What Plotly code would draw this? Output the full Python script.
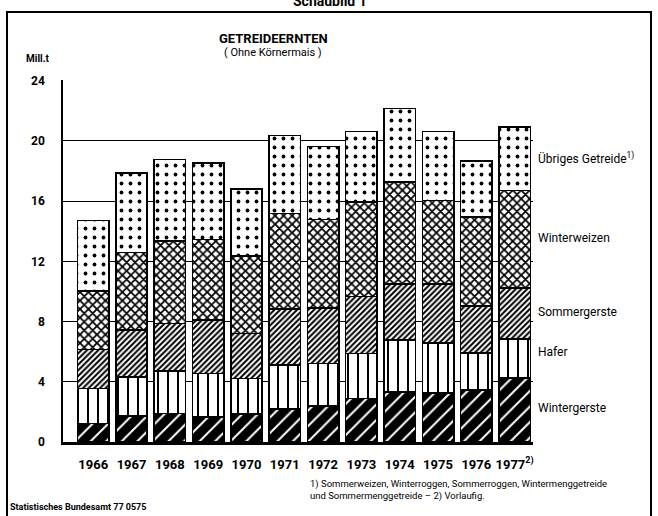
import plotly.graph_objects as go

years = [1966, 1967, 1968, 1969, 1970, 1971, 1972, 1973, 1974, 1975, 1976, 1977]
year_labels = ["1966", "1967", "1968", "1969", "1970", "1971", "1972", "1973", "1974", "1975", "1976", "1977<sup>2)</sup>"]

wintergerste = [1.24, 1.72, 1.90, 1.68, 1.86, 2.19, 2.41, 2.90, 3.34, 3.27, 3.45, 4.26]
hafer = [2.32, 2.61, 2.81, 2.87, 2.36, 2.92, 2.81, 2.98, 3.42, 3.32, 2.47, 2.57]
sommergerste = [2.59, 3.10, 3.16, 3.54, 2.99, 3.71, 3.69, 3.80, 3.72, 3.89, 3.10, 3.40]
winterweizen = [3.88, 5.15, 5.48, 5.37, 5.14, 6.37, 5.86, 6.26, 6.78, 5.57, 5.92, 6.48]
uebriges = [4.69, 5.30, 5.42, 5.09, 4.45, 5.17, 4.86, 4.70, 4.89, 4.59, 3.71, 4.20]

y_ticks = [0, 4, 8, 12, 16, 20, 24]

FONT = "Roboto, Liberation Sans, sans-serif"

series = [
    ("Wintergerste", wintergerste, dict(shape="/", bgcolor="black", fgcolor="white", size=11, solidity=0.18)),
    ("Hafer", hafer, dict(shape="|", bgcolor="white", fgcolor="black", size=10, solidity=0.2)),
    ("Sommergerste", sommergerste, dict(shape="/", bgcolor="white", fgcolor="black", size=4, solidity=0.5)),
    ("Winterweizen", winterweizen, dict(shape="x", bgcolor="white", fgcolor="black", size=6, solidity=0.5)),
    ("Übriges Getreide", uebriges, dict(shape=".", bgcolor="white", fgcolor="black", size=9, solidity=0.14)),
]

fig = go.Figure()
for name, vals, pat in series:
    fig.add_trace(go.Bar(
        x=years, y=vals, name=name, width=0.82,
        marker=dict(color="white", line=dict(color="black", width=1.6),
                    pattern=dict(fillmode="replace", **pat)),
        showlegend=False,
    ))

# pixel -> paper helpers (plot area 63..533 x, 80..442 y)
L, R, T, B = 63, 533, 80, 442
def px(x):
    return (x - L) / (R - L)
def py(y):
    return (B - y) / (B - T)

annotations = []
label_pos = [("Übriges Getreide<sup>1)</sup>", 158), ("Winterweizen", 238), ("Sommergerste", 312),
             ("Hafer", 352), ("Wintergerste", 408)]
for txt, ypix in label_pos:
    annotations.append(dict(x=px(536), y=py(ypix), xref="paper", yref="paper", text=txt,
                            showarrow=False, xanchor="left", yanchor="middle",
                            font=dict(family=FONT, size=12, color="black")))

annotations += [
    dict(x=px(273), y=py(39), xref="paper", yref="paper", text="<b>GETREIDEERNTEN</b>", showarrow=False,
         xanchor="center", yanchor="middle", font=dict(family=FONT, size=13, color="black")),
    dict(x=px(273), y=py(53), xref="paper", yref="paper", text="( Ohne Körnermais )", showarrow=False,
         xanchor="center", yanchor="middle", font=dict(family=FONT, size=11, color="black")),
    dict(x=px(24), y=py(59), xref="paper", yref="paper", text="<b>Mill.t</b>", showarrow=False,
         xanchor="left", yanchor="middle", font=dict(family=FONT, size=10, color="black")),
    dict(x=px(330), y=py(1), xref="paper", yref="paper", text="<b>Schaubild 1</b>", showarrow=False,
         xanchor="center", yanchor="middle", font=dict(family=FONT, size=14, color="black")),
    dict(x=px(308), y=py(476), xref="paper", yref="paper",
         text="1) Sommerweizen, Winterroggen, Sommerroggen, Wintermenggetreide<br>und Sommermenggetreide – 2) Vorlaufig.",
         showarrow=False, xanchor="left", yanchor="top", align="left",
         font=dict(family=FONT, size=9.5, color="black")),
    dict(x=px(8), y=py(507), xref="paper", yref="paper", text="<b>Statistisches Bundesamt 77 0575</b>",
         showarrow=False, xanchor="left", yanchor="middle",
         font=dict(family=FONT, size=9, color="black")),
]

shapes = [
    dict(type="rect", xref="paper", yref="paper", x0=px(7), x1=px(651), y0=py(540), y1=py(12),
         line=dict(color="black", width=2), fillcolor="rgba(0,0,0,0)", layer="above"),
]

fig.update_layout(
    width=658, height=516,
    margin=dict(l=L, r=658 - R, t=T, b=516 - B, pad=0, autoexpand=False),
    barmode="stack",
    plot_bgcolor="white", paper_bgcolor="white",
    font=dict(family=FONT, color="black"),
    annotations=annotations,
    shapes=shapes,
    xaxis=dict(range=[1965.21, 1977.48], tickmode="array", tickvals=years, ticktext=year_labels,
               showgrid=False, zeroline=False, showline=True, linecolor="black", linewidth=3,
               ticks="", ticklabelstandoff=8, tickangle=0, automargin=False,
               tickfont=dict(family=FONT, size=13, color="black", weight="bold")),
    yaxis=dict(range=[0, 24.05], tickmode="array", tickvals=y_ticks, ticktext=[str(v) for v in y_ticks],
               showgrid=True, gridcolor="black", gridwidth=1, zeroline=False, automargin=False,
               showline=True, linecolor="black", linewidth=1.5, ticks="", ticklabelstandoff=14,
               tickfont=dict(family=FONT, size=12, color="black", weight="bold")),
)

fig.write_html("out.html", config={"displayModeBar": False},
               post_script="document.body.style.margin='0';document.body.style.overflow='hidden';")
